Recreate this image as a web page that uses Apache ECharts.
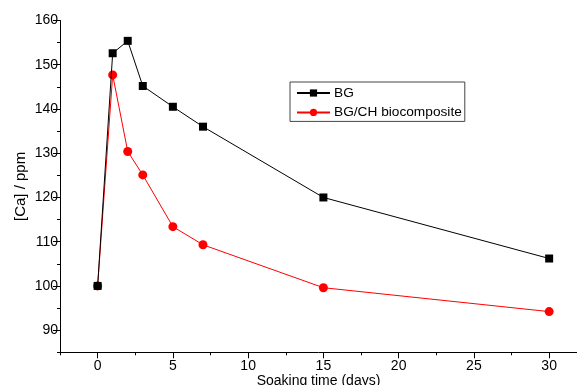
<!DOCTYPE html>
<html>
<head>
<meta charset="utf-8">
<script src="https://cdn.jsdelivr.net/npm/echarts@6/dist/echarts.min.js"></script>
<style>
html,body{margin:0;padding:0;background:#fff;}
#c{width:577px;height:385px;}
</style>
</head>
<body>
<div id="c"></div>
<script>
// Data
const days = [0, 1, 2, 3, 5, 7, 15, 30];
const bgValues = [100, 152.6, 155.4, 145.2, 140.5, 136.0, 120.0, 106.2];
const bgchValues = [100, 147.7, 130.4, 125.1, 113.4, 109.3, 99.6, 94.2];
const seriesNames = ['BG', 'BG/CH biocomposite'];
const xTickLabels = [0, 5, 10, 15, 20, 25, 30];
const yTickLabels = [90, 100, 110, 120, 130, 140, 150, 160];

const FONT = '"Liberation Sans", Arial, sans-serif';
const chart = echarts.init(document.getElementById('c'), null, {renderer: 'canvas'});

const pair = (xs, ys) => xs.map((x, i) => [x, ys[i]]);

const option = {
  backgroundColor: '#fff',
  animation: false,
  textStyle: {fontFamily: FONT, color: '#000'},
  grid: {left: 60, top: 20.5, right: 0, bottom: 32.7, containLabel: false, outerBoundsMode: 'none'},
  legend: {
    orient: 'vertical',
    left: 290,
    top: 82,
    data: seriesNames,
    itemWidth: 33,
    itemHeight: 9,
    itemGap: 5.4,
    padding: [4, 3, 2, 6],
    borderColor: '#444',
    borderWidth: 1,
    backgroundColor: '#fff',
    textStyle: {fontFamily: FONT, fontSize: 13.7, color: '#000', padding: [0, 0, 0, -1]}
  },
  xAxis: [
    {
      type: 'value', min: -2.5, max: 31.85,
      name: 'Soaking time (days)', nameLocation: 'middle', nameGap: 22, nameMoveOverlap: false,
      nameTextStyle: {fontFamily: FONT, fontSize: 14, color: '#000'},
      splitLine: {show: false},
      axisLine: {show: true, onZero: false, lineStyle: {color: '#000', width: 1}},
      axisTick: {show: true, customValues: xTickLabels, length: 6, lineStyle: {color: '#000'}},
      axisLabel: {show: true, customValues: xTickLabels, margin: 7, fontFamily: FONT, fontSize: 14, color: '#000', hideOverlap: false}
    },
    {
      type: 'value', min: -2.5, max: 31.85, interval: 2.5, position: 'bottom',
      splitLine: {show: false},
      axisLine: {show: false, onZero: false},
      axisTick: {show: true, length: 3, lineStyle: {color: '#000'}},
      axisLabel: {show: false}
    }
  ],
  yAxis: [
    {
      type: 'value', min: 85, max: 160,
      name: '[Ca] / ppm', nameLocation: 'middle', nameGap: 32, nameMoveOverlap: false,
      nameTextStyle: {fontFamily: FONT, fontSize: 15, color: '#000'},
      splitLine: {show: false},
      axisLine: {show: true, onZero: false, lineStyle: {color: '#000', width: 1}},
      axisTick: {show: true, customValues: yTickLabels, length: 7, lineStyle: {color: '#000'}},
      axisLabel: {show: true, customValues: yTickLabels, margin: 2, fontFamily: FONT, fontSize: 14, color: '#000', hideOverlap: false}
    },
    {
      type: 'value', min: 85, max: 160, interval: 5, position: 'left',
      splitLine: {show: false},
      axisLine: {show: false, onZero: false},
      axisTick: {show: true, length: 3, lineStyle: {color: '#000'}},
      axisLabel: {show: false}
    }
  ],
  series: [
    {
      name: seriesNames[0], type: 'line', xAxisIndex: 0, yAxisIndex: 0,
      data: pair(days, bgValues),
      symbol: 'rect', symbolSize: 8,
      lineStyle: {color: '#000', width: 1},
      itemStyle: {color: '#000'},
      z: 3
    },
    {
      name: seriesNames[1], type: 'line', xAxisIndex: 0, yAxisIndex: 0,
      data: pair(days, bgchValues),
      symbol: 'circle', symbolSize: 9,
      lineStyle: {color: '#ff0000', width: 1},
      itemStyle: {color: '#ff0000'},
      z: 2
    }
  ]
};
chart.setOption(option);
</script>
</body>
</html>
